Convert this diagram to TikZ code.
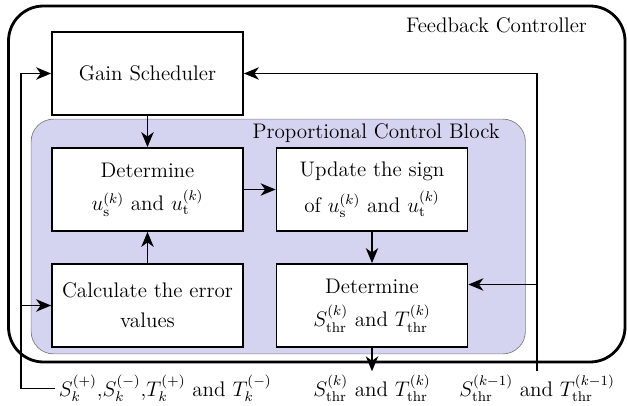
\documentclass[tikz,border=0pt]{standalone}
\usetikzlibrary{positioning,arrows.meta,backgrounds}
\definecolor{pcbfill}{RGB}{212,212,240}
\begin{document}
\begin{tikzpicture}[node distance=2.32cm,auto,font=\large,
    block/.style={draw, line width=1pt, fill=white, minimum width=3.82cm, minimum height=1.66cm, align=center},
    sig/.style={anchor=base, inner sep=2pt},
    >={Stealth[length=8.5pt,width=7pt,inset=2.5pt]}]
        \useasboundingbox (0,0) rectangle (12.56,-8.12);
        \node[block] (gain) at (2.95,-1.47) {Gain Scheduler};
        \node[block, below of=gain] (detu) {Determine\\[5pt] $u_{\mathrm{s}}^{(k)}$ and $u_{\mathrm{t}}^{(k)}$};
        \node[block, below of=detu] (calc) {Calculate the error\\[3pt] values};
        \node[block, right of=detu, node distance=4.49cm] (upd) {Update the sign\\[5pt] of $u_{\mathrm{s}}^{(k)}$ and $u_{\mathrm{t}}^{(k)}$};
        \node[block, below of=upd] (dets) {Determine\\[5pt] $S_{\mathrm{thr}}^{(k)}$ and $T_{\mathrm{thr}}^{(k)}$};

        % controller frame and block
        \draw[line width=1.6pt, rounded corners=0.7cm] (0.17,-0.12) rectangle (12.5,-7.24);
        \node (fbc) at (9.93,-0.5) {Feedback Controller};
        \begin{scope}[on background layer]
            \draw[gray, fill=pcbfill, rounded corners=0.45cm] ([xshift=-0.4cm,yshift=-0.12cm]calc.south west) rectangle ([xshift=1.14cm,yshift=0.56cm]upd.north east);
        \end{scope}
        \node[anchor=east] (pcb) at (10.12,-2.66) {Proportional Control Block};

        % signals
        \node[sig, anchor=base west] (sin) at (1.1,-7.93) {$S_k^{(+)}$,$S_k^{(-)}$,$T_k^{(+)}$ and $T_k^{(-)}$};
        \node[sig] (sthr) at (dets |- 0,-7.93) {$S_{\mathrm{thr}}^{(k)}$ and $T_{\mathrm{thr}}^{(k)}$};
        \node[sig] (sprev) at (10.74,-7.93) {$S_{\mathrm{thr}}^{(k-1)}$ and $T_{\mathrm{thr}}^{(k-1)}$};
        \coordinate (lft) at (0.42,-7.74);
        \coordinate (dsin) at ([yshift=0.42cm]dets.east);

        \draw[->, line width=1pt] (gain) -- (detu);
        \draw[->, line width=1pt] (detu) -- (upd);
        \draw[->, line width=1pt] (upd) -- (dets);
        \draw[->, line width=1pt] (calc) -- (detu);
        \draw[->, line width=1pt] (dets) -- (sthr);
        \draw[->, line width=1pt] (sin.west) -- (sin.west -| lft) |- (gain.west);
        \draw[->, line width=1pt] (calc.west -| lft) -- (calc.west);
        \draw[->, line width=1pt] (sprev.north) |- (gain.east);
        \draw[->, line width=1pt] (sprev.north |- dsin) -- (dsin);
    \end{tikzpicture}
\end{document}
